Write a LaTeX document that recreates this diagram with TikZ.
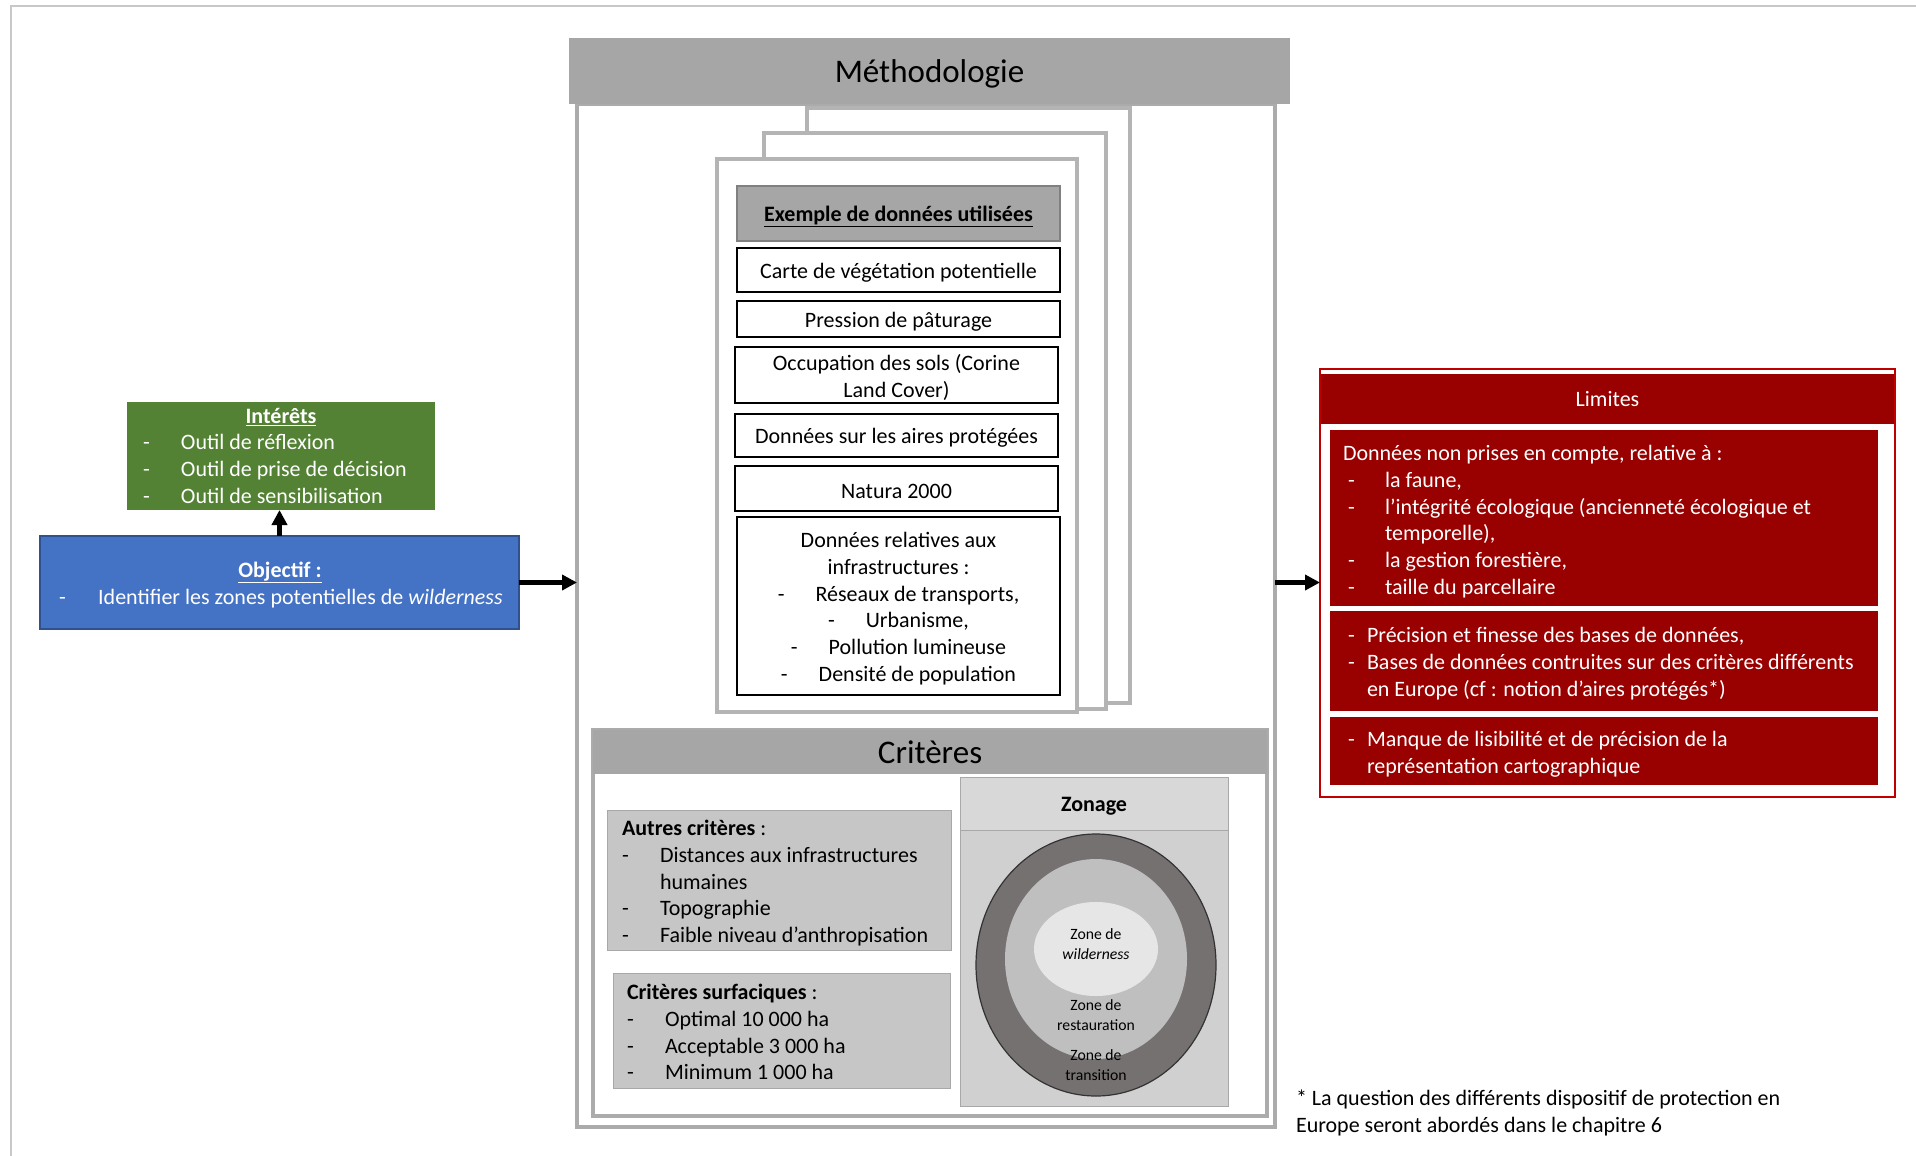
\documentclass[tikz,border=0pt]{standalone}
\usepackage{fontspec}
\setmainfont{Carlito}
\usetikzlibrary{arrows.meta,calc}
\definecolor{hdrgray}{HTML}{A6A6A6}
\definecolor{framegray}{HTML}{ABABAB}
\definecolor{pagegray}{HTML}{B4B4B4}
\definecolor{critfill}{HTML}{C6C6C6}
\definecolor{critline}{HTML}{A8A8A8}
\definecolor{zonfill}{HTML}{D0D0D0}
\definecolor{zonhdr}{HTML}{D8D8D8}
\definecolor{ringdark}{HTML}{767171}
\definecolor{ringmid}{HTML}{BFBFBF}
\definecolor{ringin}{HTML}{E7E6E6}
\definecolor{intgreen}{HTML}{548235}
\definecolor{objblue}{HTML}{4472C4}
\definecolor{objline}{HTML}{2F528F}
\definecolor{limred}{HTML}{990000}
\definecolor{limline}{HTML}{C00000}
\definecolor{outline}{HTML}{C8C8C8}
\newcommand\bodyfont{\fontsize{22}{26.7}\selectfont}
\newcommand\bigfont{\fontsize{33}{39}\selectfont}
\newcommand\zonefont{\fontsize{15.7}{19.6}\selectfont}
\newcommand\dsh[1]{\makebox[#1][l]{-}}
\begin{document}
\begin{tikzpicture}[x=1pt,y=-1pt,
  box/.style={anchor=north west, inner sep=0pt, outer sep=0pt},
  databox/.style={box, draw=black, line width=2.2pt, fill=white, minimum width=323pt},
  pagebox/.style={box, draw=pagegray, line width=4pt, fill=white},
  crit/.style={box, fill=critfill, draw=critline, line width=1pt},
  redbox/.style={box, fill=limred, minimum width=548pt},
  ctext/.style={inner sep=0pt, outer sep=0pt, align=center, font=\bodyfont},
  tx/.style={anchor=north west, inner sep=0pt, outer sep=0pt, align=left, font=\bodyfont},
  arr/.style={line width=4.5pt, -{Triangle[length=15pt,width=15pt]}}
]
\useasboundingbox (0,0) rectangle (1916,1156);
\fill[white] (0,0) rectangle (1916,1156);
\draw[outline, line width=2pt] (11,1160) -- (11,6) -- (1920,6);

% Methodologie
\node[box, draw=framegray, line width=4pt, minimum width=698pt, minimum height=1023pt] (methframe) at (577,104) {};
\node[box, fill=hdrgray, minimum width=721pt, minimum height=66pt] (methhdr) at (569,38) {};
\node[ctext, font=\bigfont] (methtx) at ([yshift=-2.5pt]methhdr.center) {Méthodologie};

% stacked pages
\node[pagebox, minimum width=323pt, minimum height=595pt] (pageback) at (807,108) {};
\node[pagebox, minimum width=342pt, minimum height=576pt] (pagemid) at (764,133) {};
\node[pagebox, minimum width=360pt, minimum height=553pt] (pagefront) at (717,159) {};

\node[box, fill=hdrgray, draw=gray, line width=1.2pt, minimum width=323pt, minimum height=55pt] (exhdr) at (737,186) {};
\node[ctext] (exhdrtx) at ([yshift=-2.5pt]exhdr.center) {\textbf{\underline{Exemple de données utilisées}}};
\node[databox, minimum height=44pt] (carte) at (737,248) {};
\node[ctext] (cartetx) at ([yshift=-2.5pt]carte.center) {Carte de végétation potentielle};
\node[databox, minimum height=36pt] (pression) at (737,301) {};
\node[ctext] (pressiontx) at ([yshift=-2.5pt]pression.center) {Pression de pâturage};
\node[databox, minimum height=56pt] (occup) at (735,347) {};
\node[ctext] (occuptx) at ([yshift=-2.5pt]occup.center) {Occupation des sols (Corine\\Land Cover)};
\node[databox, minimum height=43pt] (aires) at (735,414) {};
\node[ctext] (airestx) at ([yshift=-2.5pt]aires.center) {Données sur les aires protégées};
\node[databox, minimum height=45pt] (natura) at (735,466) {};
\node[ctext] (naturatx) at ([yshift=-2.5pt]natura.center) {Natura 2000};
\node[databox, minimum height=178pt] (infra) at (737,517) {};
\node[ctext] (infratx) at ([yshift=-2.5pt]infra.center) {Données relatives aux\\infrastructures :\\-\hspace{31pt}Réseaux de transports,\\-\hspace{31pt}Urbanisme,\\-\hspace{31pt}Pollution lumineuse\\-\hspace{31pt}Densité de population};

% Criteres
\node[box, draw=framegray, line width=4pt, fill=white, minimum width=674pt, minimum height=386pt] (critframe) at (593,730) {};
\node[box, fill=hdrgray, minimum width=674pt, minimum height=44pt, font=\bigfont] (crithdr) at (593,730) {Critères};

\node[crit, minimum width=344pt, minimum height=140pt] (autres) at (607,810) {};
\node[tx] (autrestx) at (622,817) {\strut\textbf{Autres critères} :\\\dsh{38pt}Distances aux infrastructures\\\hspace*{38pt}humaines\\\dsh{38pt}Topographie\\\dsh{38pt}Faible niveau d’anthropisation};
\node[crit, minimum width=337pt, minimum height=115pt] (surf) at (613,973) {};
\node[tx] (surftx) at (627,981) {\strut\textbf{Critères surfaciques} :\\\dsh{38pt}Optimal 10 000 ha\\\dsh{38pt}Acceptable 3 000 ha\\\dsh{38pt}Minimum 1 000 ha};

\node[box, fill=zonfill, draw=critline, line width=1pt, minimum width=268pt, minimum height=329pt] (zonage) at (960,777) {};
\node[box, fill=zonhdr, draw=critline, line width=1pt, minimum width=268pt, minimum height=53pt] (zonhdr) at (960,777) {};
\node[ctext] (zonhdrtx) at ([yshift=-2.5pt]zonhdr.center) {\textbf{Zonage}};
\fill[ringdark, draw=black!80, line width=1.2pt] (1096,965) ellipse [x radius=120, y radius=131];
\fill[ringmid] (1096,959) ellipse [x radius=91, y radius=100];
\fill[ringin] (1096,949) ellipse [x radius=62, y radius=47];
\node[font=\zonefont, align=center, inner sep=0pt] (zwild) at (1096,944) {Zone de\\\textit{wilderness}};
\node[font=\zonefont, align=center, inner sep=0pt] (zrest) at (1096,1015) {Zone de\\restauration};
\node[font=\zonefont, align=center, inner sep=0pt] (ztrans) at (1096,1065) {Zone de\\transition};

% Interets & Objectif
\node[box, fill=intgreen, minimum width=308pt, minimum height=108pt] (int) at (127,402) {};
\node[font=\bodyfont, text=white, anchor=base, inner sep=0pt] (inttitle) at (281,423.5) {\textbf{\underline{Intérêts}}};
\node[tx, text=white] (inttx) at (143,431) {\strut\dsh{38pt}Outil de réflexion\\\dsh{38pt}Outil de prise de décision\\\dsh{38pt}Outil de sensibilisation};

\node[box, fill=objblue, draw=objline, line width=2pt, minimum width=479pt, minimum height=93pt] (obj) at (40,536) {};
\node[font=\bodyfont, text=white, anchor=base, inner sep=0pt] (objtitle) at (280,577.5) {\textbf{\underline{Objectif :}}};
\node[font=\bodyfont, text=white, anchor=base west, inner sep=0pt] (objtx) at (59,604.5) {\dsh{39pt}Identifier les zones potentielles de \textit{wilderness}};

% Limites
\node[box, draw=limline, line width=2pt, fill=white, minimum width=575pt, minimum height=428pt] (limites) at (1320,369) {};
\node[box, fill=limred, minimum width=573pt, minimum height=50pt, font=\bodyfont, text=white] (limhdr) at (1321,374) {Limites};
\node[redbox, minimum height=176pt] (lim1) at (1330,430) {};
\node[redbox, minimum height=100pt] (lim2) at (1330,611) {};
\node[redbox, minimum height=68pt] (lim3) at (1330,717) {};
\node[tx, text=white] (lim1tx) at (1343,442) {\strut Données non prises en compte, relative à :\\\hspace*{5pt}\dsh{37pt}la faune,\\\hspace*{5pt}\dsh{37pt}l’intégrité écologique (ancienneté écologique et\\\hspace*{42pt}temporelle),\\\hspace*{5pt}\dsh{37pt}la gestion forestière,\\\hspace*{5pt}\dsh{37pt}taille du parcellaire};
\node[tx, text=white] (lim2tx) at (1348,624) {\strut\dsh{19pt}Précision et finesse des bases de données,\\\dsh{19pt}Bases de données contruites sur des critères différents\\\hspace*{19pt}en Europe (cf : notion d’aires protégés*)};
\node[tx, text=white] (lim3tx) at (1348,728) {\strut\dsh{19pt}Manque de lisibilité et de précision de la\\\hspace*{19pt}représentation cartographique};

% footnote
\node[tx] (foot) at (1296,1087) {\strut * La question des différents dispositif de protection en\\Europe seront abordés dans le chapitre 6};

% connectors
\draw[arr] (obj.north) -- (obj.north |- int.south);
\draw[arr] (obj.east) -- (obj.east -| methframe.west);
\draw[arr] (methframe.east |- obj.east) -- (limites.west |- obj.east);
\end{tikzpicture}
\end{document}
